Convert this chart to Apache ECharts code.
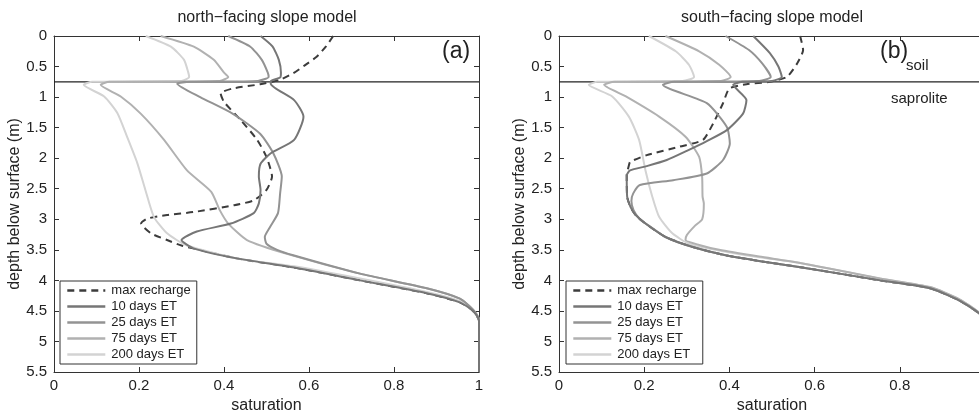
<!DOCTYPE html>
<html>
<head>
<meta charset="utf-8">
<script src="https://cdn.jsdelivr.net/npm/echarts@6/dist/echarts.min.js"></script>
<style>
  html, body { margin: 0; padding: 0; background: #fff; }
  #chart { width: 979px; height: 414px; }
</style>
</head>
<body>
<div id="chart"></div>
<script>
// [saturation, depth (m)] pairs
const seriesNames = ['max recharge', '10 days ET', '25 days ET', '75 days ET', '200 days ET']
const xTicks = [0, 0.2, 0.4, 0.6, 0.8, 1]
const yTicks = [0, 0.5, 1, 1.5, 2, 2.5, 3, 3.5, 4, 4.5, 5, 5.5]
const interfaceDepth = 0.75

const northMaxRecharge = [[0.657,0],[0.64,0.17],[0.618,0.34],[0.59,0.48],[0.563,0.61],[0.53,0.72],[0.485,0.79],[0.42,0.86],[0.392,0.94],[0.40,1.08],[0.44,1.38],[0.478,1.7],[0.50,1.98],[0.513,2.3],[0.50,2.52],[0.47,2.69],[0.424,2.77],[0.33,2.88],[0.266,2.93],[0.219,2.99],[0.205,3.07],[0.228,3.23],[0.266,3.34],[0.30,3.43],[0.33,3.48],[0.43,3.64],[0.565,3.79],[0.72,4.0],[0.877,4.21],[0.955,4.36],[0.986,4.5],[1,4.66],[1,5.5]]
const north10 = [[0.486,0],[0.514,0.17],[0.529,0.39],[0.534,0.6],[0.532,0.68],[0.51,0.74],[0.51,0.78],[0.565,1.05],[0.587,1.32],[0.565,1.7],[0.51,1.92],[0.486,2.09],[0.482,2.3],[0.486,2.52],[0.482,2.74],[0.47,2.9],[0.416,3.07],[0.336,3.2],[0.30,3.34],[0.33,3.48],[0.43,3.64],[0.565,3.79],[0.72,4.0],[0.877,4.21],[0.955,4.36],[0.986,4.5],[1,4.66],[1,5.5]]
const north25 = [[0.41,0],[0.462,0.175],[0.489,0.39],[0.503,0.6],[0.505,0.67],[0.48,0.735],[0.32,0.75],[0.29,0.78],[0.344,1.0],[0.42,1.27],[0.485,1.6],[0.516,1.92],[0.536,2.3],[0.532,2.58],[0.527,2.9],[0.508,3.13],[0.496,3.29],[0.50,3.4],[0.525,3.5],[0.563,3.59],[0.72,3.89],[0.877,4.13],[0.955,4.3],[0.986,4.48],[1,4.64],[1,5.5]]
const north75 = [[0.251,0],[0.329,0.175],[0.376,0.39],[0.40,0.6],[0.41,0.67],[0.39,0.735],[0.13,0.75],[0.11,0.80],[0.157,0.99],[0.204,1.27],[0.259,1.7],[0.313,2.2],[0.37,2.55],[0.39,2.85],[0.41,3.07],[0.454,3.34],[0.55,3.57],[0.72,3.89],[0.877,4.13],[0.955,4.3],[0.986,4.48],[1,4.64],[1,5.5]]
const north200 = [[0.216,0],[0.275,0.175],[0.306,0.39],[0.316,0.6],[0.318,0.67],[0.30,0.735],[0.09,0.75],[0.07,0.80],[0.118,0.99],[0.149,1.26],[0.172,1.65],[0.196,2.08],[0.215,2.52],[0.235,2.96],[0.266,3.23],[0.313,3.43],[0.43,3.64],[0.565,3.77],[0.72,3.97],[0.877,4.19],[0.955,4.34],[0.986,4.49],[1,4.65],[1,5.5]]

const southMaxRecharge = [[0.566,0],[0.573,0.23],[0.559,0.45],[0.535,0.67],[0.495,0.75],[0.44,0.79],[0.40,0.86],[0.385,1.1],[0.362,1.43],[0.338,1.7],[0.284,1.81],[0.206,1.95],[0.167,2.06],[0.164,2.12],[0.159,2.28],[0.16,2.63],[0.168,2.8],[0.18,2.93],[0.203,3.07],[0.25,3.29],[0.312,3.45],[0.391,3.59],[0.485,3.70],[0.563,3.78],[0.754,4.0],[0.871,4.13],[0.94,4.33],[0.986,4.54],[1,4.7],[1,5.5]]
const south10 = [[0.456,0],[0.495,0.28],[0.515,0.5],[0.523,0.67],[0.50,0.735],[0.43,0.75],[0.409,0.80],[0.44,1.05],[0.432,1.27],[0.394,1.54],[0.347,1.72],[0.30,1.88],[0.253,2.03],[0.206,2.13],[0.167,2.2],[0.159,2.28],[0.16,2.63],[0.168,2.8],[0.18,2.93],[0.203,3.07],[0.25,3.29],[0.312,3.45],[0.391,3.59],[0.485,3.70],[0.563,3.78],[0.754,4.0],[0.871,4.13],[0.94,4.33],[0.986,4.54],[1,4.7],[1,5.5]]
const south25 = [[0.391,0],[0.446,0.23],[0.477,0.45],[0.497,0.67],[0.47,0.735],[0.27,0.75],[0.244,0.80],[0.347,1.1],[0.394,1.49],[0.401,1.76],[0.385,2.03],[0.347,2.25],[0.268,2.36],[0.19,2.44],[0.174,2.58],[0.17,2.7],[0.175,2.85],[0.19,3.0],[0.21,3.1],[0.25,3.29],[0.312,3.45],[0.391,3.59],[0.485,3.70],[0.563,3.78],[0.754,4.0],[0.871,4.13],[0.94,4.33],[0.986,4.54],[1,4.7],[1,5.5]]
const south75 = [[0.25,0],[0.329,0.25],[0.376,0.47],[0.403,0.67],[0.38,0.735],[0.13,0.75],[0.106,0.80],[0.157,0.99],[0.235,1.32],[0.297,1.65],[0.329,1.98],[0.336,2.31],[0.337,2.63],[0.34,2.74],[0.336,3.0],[0.32,3.1],[0.30,3.26],[0.297,3.34],[0.329,3.42],[0.376,3.5],[0.47,3.61],[0.563,3.71],[0.754,3.97],[0.871,4.11],[0.94,4.31],[0.986,4.53],[1,4.7],[1,5.5]]
const south200 = [[0.211,0],[0.274,0.25],[0.305,0.47],[0.317,0.67],[0.29,0.735],[0.09,0.75],[0.07,0.80],[0.125,0.99],[0.164,1.32],[0.188,1.70],[0.203,2.2],[0.219,2.63],[0.235,2.96],[0.266,3.23],[0.305,3.4],[0.376,3.51],[0.47,3.62],[0.563,3.71],[0.754,3.97],[0.871,4.11],[0.94,4.31],[0.986,4.53],[1,4.7],[1,5.5]]

const northData = [northMaxRecharge, north10, north25, north75, north200]
const southData = [southMaxRecharge, south10, south25, south75, south200]
const lineColors = ['#3c3c3c', '#767676', '#939393', '#b1b1b1', '#d3d3d3']

const font = '"Liberation Sans", Arial, Helvetica, sans-serif'
const textColor = '#222'

const chart = echarts.init(document.getElementById('chart'))

function valueAxis(gridIndex, isX, position, showLabels) {
  const axis = {
    type: 'value',
    gridIndex: gridIndex,
    position: position,
    min: isX ? xTicks[0] : yTicks[0],
    max: isX ? xTicks[xTicks.length - 1] : yTicks[yTicks.length - 1],
    interval: isX ? xTicks[1] - xTicks[0] : yTicks[1] - yTicks[0],
    inverse: !isX,
    splitLine: { show: false },
    axisLine: { show: true, onZero: false, lineStyle: { color: '#333', width: 1 } },
    axisTick: { show: true, inside: true, length: 5, lineStyle: { color: '#333' } },
    axisLabel: {
      show: showLabels,
      color: textColor,
      fontSize: 15,
      fontFamily: font,
      margin: isX ? 6 : 7,
    },
  }
  if (showLabels && isX) {
    axis.name = 'saturation'
    axis.nameLocation = 'middle'
    axis.nameGap = 23
    axis.nameTextStyle = { fontSize: 16, fontFamily: font, color: textColor }
  }
  if (showLabels && !isX) {
    axis.name = 'depth below surface (m)'
    axis.nameLocation = 'middle'
    axis.nameGap = 30
    axis.nameTextStyle = { fontSize: 16, fontFamily: font, color: textColor }
  }
  return axis
}

function panelSeries(gridIndex, dataSets) {
  const list = []
  // soil / saprolite boundary
  list.push({
    type: 'line',
    xAxisIndex: gridIndex * 2,
    yAxisIndex: gridIndex * 2,
    data: [[xTicks[0], interfaceDepth], [xTicks[xTicks.length - 1], interfaceDepth]],
    symbol: 'none',
    silent: true,
    lineStyle: { color: '#222', width: 1.2 },
    z: 1,
  })
  dataSets.forEach((d, i) => {
    list.push({
      name: seriesNames[i],
      type: 'line',
      xAxisIndex: gridIndex * 2,
      yAxisIndex: gridIndex * 2,
      data: d,
      symbol: 'none',
      smooth: 0.2,
      lineStyle: {
        color: lineColors[i],
        width: 2,
        type: i === 0 ? [7, 5] : 'solid',
      },
      itemStyle: { color: lineColors[i] },
      z: 2 + (i === 0 ? 0 : 5 - i),
    })
  })
  return list
}

function legendAt(left) {
  return {
    left: left,
    top: 281,
    orient: 'vertical',
    data: seriesNames,
    selectedMode: false,
    backgroundColor: '#fff',
    borderColor: '#333',
    borderWidth: 1,
    borderRadius: 0,
    padding: [3, 6, 3, 6],
    itemGap: 3,
    itemWidth: 38,
    itemHeight: 14,
    // only the line sample, no marker
    itemStyle: { opacity: 0 },
    lineStyle: { width: 2.6 },
    textStyle: { fontSize: 13, fontFamily: font, color: textColor, padding: [0, 0, 0, 1] },
  }
}

function label(text, x, y, size, align) {
  return {
    type: 'text',
    x: x,
    y: y,
    z: 10,
    style: {
      text: text,
      fill: textColor,
      font: size + 'px ' + font,
      textAlign: align || 'left',
      textVerticalAlign: 'top',
    },
  }
}

chart.setOption({
  animation: false,
  grid: [
    { left: 54, top: 36, width: 425, height: 336, outerBoundsMode: 'none' },
    { left: 559, top: 36, width: 426, height: 336, outerBoundsMode: 'none' },
  ],
  xAxis: [
    valueAxis(0, true, 'bottom', true),
    valueAxis(0, true, 'top', false),
    valueAxis(1, true, 'bottom', true),
    valueAxis(1, true, 'top', false),
  ],
  yAxis: [
    valueAxis(0, false, 'left', true),
    valueAxis(0, false, 'right', false),
    valueAxis(1, false, 'left', true),
    valueAxis(1, false, 'right', false),
  ],
  legend: [legendAt(60), legendAt(566)],
  graphic: [
    label('north\u2212facing slope model', 267, 10, 16, 'center'),
    label('south\u2212facing slope model', 772, 10, 16, 'center'),
    label('(a)', 442, 40, 23),
    label('(b)', 880, 40, 23),
    label('soil', 906, 58, 15),
    label('saprolite', 891, 91, 15),
  ],
  series: panelSeries(0, northData).concat(panelSeries(1, southData)),
})
</script>
</body>
</html>
